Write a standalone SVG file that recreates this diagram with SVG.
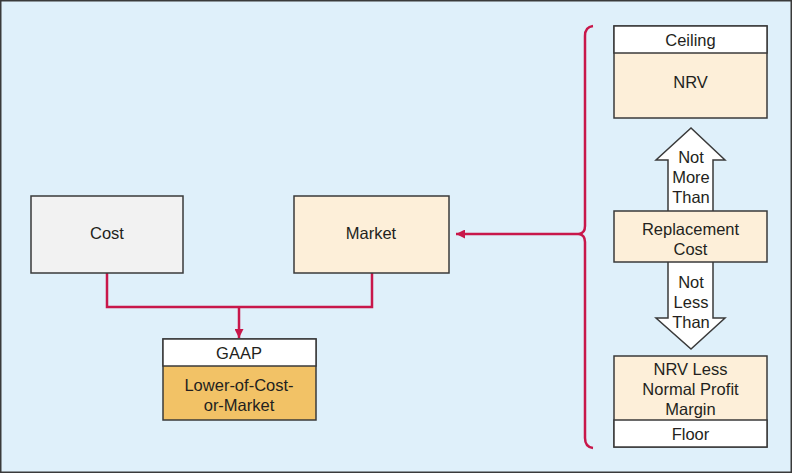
<svg xmlns="http://www.w3.org/2000/svg" width="792" height="473" viewBox="0 0 792 473">
<style>
.box{stroke:#3a3a3a;stroke-width:1.5}
.t{font-family:"Liberation Sans",Arial,sans-serif;font-size:16.5px;fill:#231f20;text-anchor:middle}
.red{fill:none;stroke:#c8174a;stroke-width:2.5}
.arrowshape{fill:#ffffff;stroke:#3a3a3a;stroke-width:1.5}
</style>
<defs>
<marker id="ah" markerWidth="9" markerHeight="9" refX="9" refY="4.5" orient="auto" markerUnits="userSpaceOnUse" viewBox="0 0 9 9">
<path d="M0,0 L9,4.5 L0,9 Z" fill="#c8174a"/>
</marker>
</defs>
<rect x="0.75" y="0.75" width="790.5" height="471.5" fill="#dff0fa" stroke="#3a3a3a" stroke-width="1.5"/>
<g id="connectors">
<path class="red" d="M107,273 V307 H372 V273"/>
<path class="red" d="M239,307 V338" marker-end="url(#ah)"/>
<path class="red" d="M579,234 H456" marker-end="url(#ah)"/>
<path class="red" d="M593,26 Q585,27 585,36 V226 Q585,233 579,234 Q585,235 585,242 V438 Q585,447 593,448"/>
</g>
<g id="cost">
<rect class="box" x="31" y="196" width="152" height="77" fill="#f2f2f2"/>
<text class="t" x="107" y="239">Cost</text>
</g>
<g id="market">
<rect class="box" x="294" y="196" width="155" height="77" fill="#fdefd9"/>
<text class="t" x="371" y="239">Market</text>
</g>
<g id="gaap">
<rect class="box" x="163" y="339" width="153" height="81" fill="#f2c266"/>
<rect class="box" x="163" y="339" width="153" height="27" fill="#ffffff"/>
<text class="t" x="239" y="359">GAAP</text>
<text class="t" x="239" y="391">Lower-of-Cost-</text>
<text class="t" x="239" y="411">or-Market</text>
</g>
<g id="ceiling">
<rect class="box" x="614" y="26" width="153" height="92" fill="#fdefd9"/>
<rect class="box" x="614" y="26" width="153" height="27" fill="#ffffff"/>
<text class="t" x="690.5" y="46">Ceiling</text>
<text class="t" x="690.5" y="88">NRV</text>
</g>
<g id="not-more-than">
<path class="arrowshape" d="M668,211 V160 H656 L691,128 L725,160 H713 V211"/>
<text class="t" x="691" y="163">Not</text>
<text class="t" x="691" y="183">More</text>
<text class="t" x="691" y="203">Than</text>
</g>
<g id="not-less-than">
<path class="arrowshape" d="M668,262 V318 H656 L691,349 L725,318 H713 V262"/>
<text class="t" x="691" y="288">Not</text>
<text class="t" x="691" y="308">Less</text>
<text class="t" x="691" y="328">Than</text>
</g>
<g id="replacement">
<rect class="box" x="614" y="211" width="153" height="51" fill="#fdefd9"/>
<text class="t" x="690.5" y="235">Replacement</text>
<text class="t" x="690.5" y="255">Cost</text>
</g>
<g id="floor">
<rect class="box" x="614" y="356" width="153" height="91" fill="#fdefd9"/>
<rect class="box" x="614" y="420" width="153" height="27" fill="#ffffff"/>
<text class="t" x="690.5" y="375">NRV Less</text>
<text class="t" x="690.5" y="395">Normal Profit</text>
<text class="t" x="690.5" y="415">Margin</text>
<text class="t" x="690.5" y="440">Floor</text>
</g>
</svg>
